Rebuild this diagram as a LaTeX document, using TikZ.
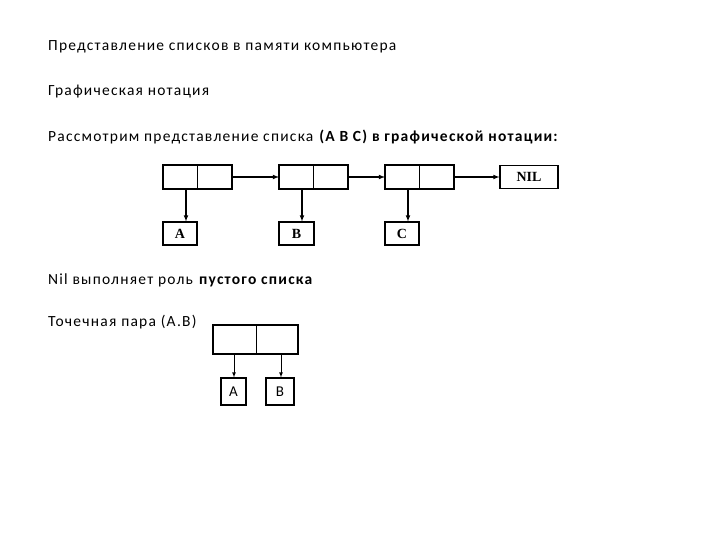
\documentclass[tikz,border=0pt]{standalone}
\usepackage{fontspec}
\setmainfont[LetterSpace=8]{Carlito}
\newfontfamily\plain{Carlito}
\newfontfamily\tms{Liberation Serif}
\begin{document}
\begin{tikzpicture}[x=1pt,y=-1pt,
  txt/.style={anchor=west,inner sep=0pt,font=\fontsize{15.5}{17}\selectfont},
  bx/.style={draw,line width=1.1pt},
  lbl/.style={font=\tms\bfseries\fontsize{14}{16}\selectfont},
  arr/.style={-latex,line width=1.1pt},
  thin/.style={-latex,line width=0.8pt}]
\useasboundingbox (0,0) rectangle (720,540);
\node[txt] (t1) at (48,47) {Представление списков в памяти компьютера};
\node[txt] (t2) at (48,92) {Графическая нотация};
\node[txt] (t3) at (48,137) {Рассмотрим представление списка \textbf{(A B C) в графической нотации:}};
\node[txt] (t4) at (48,280) {Nil выполняет роль \textbf{пустого списка}};
\node[txt] (t5) at (48,322) {Точечная пара (A.B)};
% list cells
\foreach \n/\x in {1/163,2/279,3/385}{
  \draw[bx] (\x,165) rectangle ++(69,24);
  \draw[bx] (\x+34.5,165) -- (\x+34.5,189);
  \coordinate (c\n) at (\x+23,189);
  \coordinate (l\n) at (\x,177);
  \coordinate (r\n) at (\x+69,177);
}
\node[bx,lbl,minimum width=58pt,minimum height=23pt,inner sep=0pt] (nil) at (529,177) {NIL};
\node[bx,lbl,minimum width=34pt,minimum height=23pt,inner sep=0pt] (a) at (180,233.5) {A};
\node[bx,lbl,minimum width=35pt,minimum height=23pt,inner sep=0pt] (b) at (296.5,233.5) {B};
\node[bx,lbl,minimum width=34pt,minimum height=23pt,inner sep=0pt] (c) at (402,233.5) {C};
\draw[arr] (r1) -- (l2);
\draw[arr] (r2) -- (l3);
\draw[arr] (r3) -- (nil.west);
\draw[arr] (c1) -- (c1 |- a.north);
\draw[arr] (c2) -- (c2 |- b.north);
\draw[arr] (c3) -- (c3 |- c.north);
% dotted pair
\draw[bx] (213,325) rectangle (298,354);
\draw[line width=0.6pt] (256,325) -- (256,354);
\coordinate (pa) at (234,354);
\coordinate (pb) at (281,354);
\node[bx,minimum width=25pt,minimum height=27pt,inner sep=0pt,font=\plain\fontsize{15}{17}\selectfont] (A2) at (233.5,391.5) {A};
\node[bx,minimum width=28pt,minimum height=27pt,inner sep=0pt,font=\plain\fontsize{15}{17}\selectfont] (B2) at (280,391.5) {B};
\draw[thin] (pa) -- (pa |- A2.north);
\draw[thin] (pb) -- (pb |- B2.north);
\end{tikzpicture}
\end{document}
